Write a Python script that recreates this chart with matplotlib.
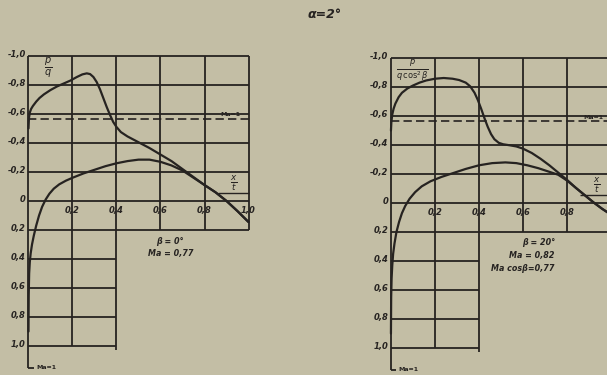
import matplotlib
matplotlib.use("Agg")
import matplotlib.pyplot as plt

# ---- data ----
yticks = [-1.0, -0.8, -0.6, -0.4, -0.2, 0.0, 0.2, 0.4, 0.6, 0.8, 1.0]
ytick_labels = ["-1,0", "-0,8", "-0,6", "-0,4", "-0,2", "0", "0,2", "0,4", "0,6", "0,8", "1,0"]
xticks = [0.2, 0.4, 0.6, 0.8, 1.0]
xtick_labels = ["0,2", "0,4", "0,6", "0,8", "1,0"]
cp_star = -0.568

# beta = 0 deg
x_up_0 = [0.0, 0.002, 0.006, 0.012, 0.02, 0.035, 0.05, 0.07, 0.1, 0.13, 0.16, 0.19, 0.22, 0.245, 0.265,
          0.28, 0.295, 0.31, 0.325, 0.34, 0.355, 0.37, 0.385, 0.40, 0.42, 0.45, 0.5, 0.55, 0.6, 0.65,
          0.7, 0.75, 0.8, 0.85, 0.9, 0.95, 1.0]
cp_up_0 = [-0.5, -0.57, -0.61, -0.635, -0.655, -0.685, -0.71, -0.735, -0.765, -0.79, -0.81, -0.83, -0.855,
           -0.873, -0.88, -0.875, -0.855, -0.82, -0.77, -0.71, -0.65, -0.595, -0.545, -0.51, -0.475,
           -0.445, -0.405, -0.365, -0.32, -0.275, -0.22, -0.165, -0.11, -0.06, 0.0, 0.07, 0.145]
x_lo_0 = [0.0, 0.001, 0.003, 0.006, 0.01, 0.016, 0.024, 0.035, 0.048, 0.062, 0.078, 0.095, 0.115,
          0.14, 0.17, 0.2, 0.25, 0.3, 0.35, 0.4, 0.45, 0.5, 0.55, 0.6, 0.65, 0.7, 0.75, 0.8, 0.85,
          0.9, 0.95, 1.0]
cp_lo_0 = [0.9, 0.65, 0.5, 0.42, 0.36, 0.3, 0.24, 0.17, 0.1, 0.04, -0.01, -0.05, -0.085, -0.115,
           -0.14, -0.16, -0.19, -0.215, -0.24, -0.26, -0.275, -0.285, -0.285, -0.27, -0.245, -0.21,
           -0.16, -0.11, -0.06, 0.0, 0.07, 0.145]

# beta = 20 deg
x_up_20 = [0.0, 0.002, 0.006, 0.012, 0.02, 0.035, 0.05, 0.075, 0.1, 0.13, 0.16, 0.2, 0.24, 0.28,
           0.31, 0.34, 0.36, 0.38, 0.395, 0.41, 0.425, 0.44, 0.455, 0.47, 0.49, 0.51, 0.54, 0.57,
           0.6, 0.64, 0.68, 0.72, 0.76, 0.8, 0.84, 0.88, 0.92, 0.96, 1.0]
cp_up_20 = [-0.5, -0.56, -0.61, -0.65, -0.685, -0.73, -0.76, -0.79, -0.81, -0.83, -0.845, -0.857,
            -0.862, -0.857, -0.848, -0.83, -0.805, -0.76, -0.71, -0.65, -0.585, -0.525, -0.475,
            -0.44, -0.415, -0.405, -0.398, -0.39, -0.375, -0.345, -0.305, -0.26, -0.21, -0.16,
            -0.105, -0.055, -0.005, 0.04, 0.08]
x_lo_20 = [0.0, 0.001, 0.003, 0.006, 0.01, 0.016, 0.025, 0.037, 0.05, 0.065, 0.085, 0.11, 0.14,
           0.18, 0.23, 0.28, 0.34, 0.4, 0.46, 0.52, 0.57, 0.62, 0.67, 0.72, 0.76, 0.8, 0.84, 0.88,
           0.92, 0.96, 1.0]
cp_lo_20 = [0.9, 0.65, 0.52, 0.43, 0.35, 0.28, 0.2, 0.13, 0.07, 0.02, -0.03, -0.075, -0.115, -0.15,
            -0.18, -0.205, -0.235, -0.26, -0.275, -0.28, -0.275, -0.26, -0.24, -0.215, -0.195,
            -0.155, -0.105, -0.055, -0.005, 0.04, 0.08]

panels = [
    dict(xu=x_up_0, cu=cp_up_0, xl=x_lo_0, cl=cp_lo_0,
         ylabel=r"$\frac{p}{q}$", ylabel_x=0.09, ylabel_fs=10, info=["β = 0°", "Ma = 0,77"],
         info_x=0.645, info_ha="center", info_y=[0.28, 0.365], nx=5,
         rect_px=(0, 30, 290, 375), xlim=(-0.1295, 1.1886), ylim=(1.2, -1.179)),
    dict(xu=x_up_20, cu=cp_up_20, xl=x_lo_20, cl=cp_lo_20,
         ylabel=r"$\frac{p}{q\,\cos^2\beta}$", ylabel_x=0.1, ylabel_fs=8.5,
         info=["β = 20°", "Ma = 0,82", "Ma cosβ=0,77"],
         info_x=0.745, info_ha="right", info_y=[0.27, 0.36, 0.455], nx=4,
         rect_px=(330, 30, 607, 375), xlim=(-0.277, 0.982), ylim=(1.186, -1.193)),
]

W, H = 607, 375
bg = "#c3bea5"
ink = "#262321"
fig = plt.figure(figsize=(W / 100, H / 100), dpi=100, facecolor=bg)

fig.text(325 / W, 1 - 15 / H, "α=2°", ha="center", va="center", fontsize=9,
         fontstyle="italic", fontweight="bold", color=ink)

for p in panels:
    l, t, r, b = p["rect_px"]
    ax = fig.add_axes([l / W, 1 - b / H, (r - l) / W, (b - t) / H])
    ax.set_facecolor("none")
    ax.set_xlim(*p["xlim"])
    ax.set_ylim(*p["ylim"])
    for s in ax.spines.values():
        s.set_visible(False)
    ax.set_xticks([])
    ax.set_yticks([])

    glw = 1.3
    for y in yticks:
        xe = 1.0 if y <= 0.2 else 0.4
        ax.hlines(y, 0, xe, color=ink, lw=glw)
    ax.vlines(0, -1.0, 1.15, color=ink, lw=glw)
    for x in xticks:
        ye = 1.0 if x <= 0.4 else 0.2
        if x == 0.4:
            ye = 1.03
        ax.vlines(x, -1.0, ye, color=ink, lw=glw)
    ax.hlines(1.15, 0, 0.025, color=ink, lw=glw)
    ax.text(0.035, 1.15, "Ma=1", fontsize=4.5, va="center", ha="left", color=ink, fontweight="bold")

    ax.hlines(cp_star, 0, 1.0, color=ink, lw=1.2, linestyles=(0, (5, 2.5)))
    ax.text(0.965, cp_star - 0.025, "Ma=1", fontsize=4.5, va="center", ha="right", color=ink,
            fontweight="bold", clip_on=True)

    for y, lab in zip(yticks, ytick_labels):
        ax.text(-0.012, y - 0.012, lab, ha="right", va="center", fontsize=6,
                fontstyle="italic", fontweight="bold", color=ink)
    for x, lab in zip(xticks[:p["nx"]], xtick_labels[:p["nx"]]):
        ax.text(x, 0.065, lab, ha="center", va="center", fontsize=6,
                fontstyle="italic", fontweight="bold", color=ink, clip_on=True)

    ax.plot(p["xu"], p["cu"], color=ink, lw=1.6, solid_capstyle="round", solid_joinstyle="round")
    ax.plot(p["xl"], p["cl"], color=ink, lw=1.6, solid_capstyle="round", solid_joinstyle="round")

    ax.text(p["ylabel_x"], -0.915, p["ylabel"], ha="center", va="center", fontsize=p["ylabel_fs"],
            color=ink)
    ax.text(0.935, -0.125, r"$\frac{x}{t}$", ha="center", va="center", fontsize=9, color=ink,
            clip_on=True)
    ax.hlines(-0.055, 0.86, 1.0, color=ink, lw=1.0)
    for s, yy in zip(p["info"], p["info_y"]):
        ax.text(p["info_x"], yy, s, ha=p["info_ha"], va="center", fontsize=5.8,
                fontstyle="italic", fontweight="bold", color=ink)

fig.savefig("out.png", dpi=100, facecolor=bg)
